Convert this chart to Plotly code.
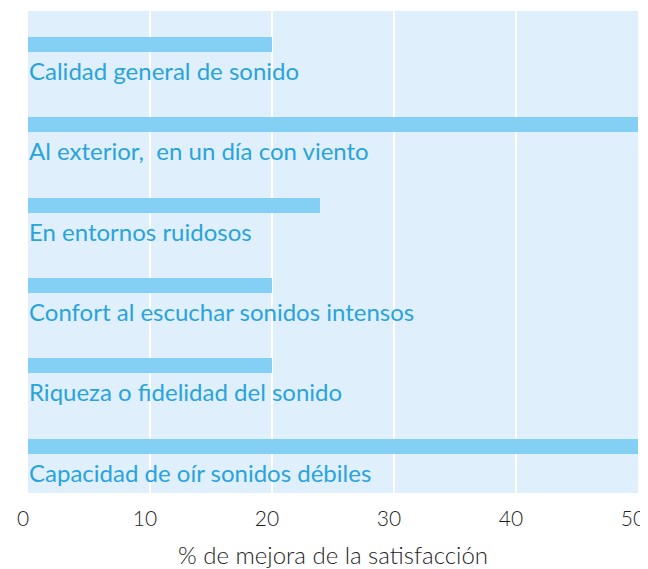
import plotly.graph_objects as go

categories = [
    "Calidad general de sonido",
    "Al exterior,  en un día con viento",
    "En entornos ruidosos",
    "Confort al escuchar sonidos intensos",
    "Riqueza o fidelidad del sonido",
    "Capacidad de oír sonidos débiles",
]
values = [20, 50, 23.9, 20, 20, 50]
x_ticks = [0, 10, 20, 30, 40, 50]

BAR_COLOR = "#84cff4"
BG_COLOR = "#dff0fc"
LABEL_COLOR = "#2aa3dc"
TEXT_COLOR = "#1e1e1e"

idx = list(range(len(categories)))
bar_pos = [i + 0.417 for i in idx]
label_pos = [i + 0.74 for i in idx]

fig = go.Figure()
fig.add_trace(go.Bar(
    x=values, y=bar_pos, orientation="h",
    width=0.187, marker=dict(color=BAR_COLOR, line=dict(width=0)),
    hoverinfo="skip", showlegend=False,
))

for c, yp in zip(categories, label_pos):
    fig.add_annotation(
        x=0, y=yp, xref="x", yref="y", text=c, showarrow=False,
        xanchor="left", yanchor="middle", xshift=-1,
        font=dict(family="Lato", size=24, color=LABEL_COLOR),
    )

fig.update_layout(
    width=640, height=561,
    margin=dict(l=20, r=10, t=3, b=76),
    paper_bgcolor="white", plot_bgcolor=BG_COLOR,
    bargap=0,
    xaxis=dict(
        range=[0, 50], tickvals=x_ticks, ticktext=[str(t) for t in x_ticks],
        showgrid=True, gridcolor="white", gridwidth=2, zeroline=False,
        showline=False, ticks="outside", ticklen=7, tickcolor="rgba(0,0,0,0)",
        automargin=False, ticklabeloverflow="allow", ticklabelshift=-5,
        tickfont=dict(family="Lato", size=21, color=TEXT_COLOR, weight=300),
        title=dict(text="% de mejora de la satisfacción", standoff=24,
                   font=dict(family="Lato", size=24, color=TEXT_COLOR, weight=300)),
    ),
    yaxis=dict(
        range=[len(categories), 0], showgrid=False, zeroline=False,
        showticklabels=False, ticks="", showline=False, automargin=False,
    ),
)

fig.write_html("out.html")
